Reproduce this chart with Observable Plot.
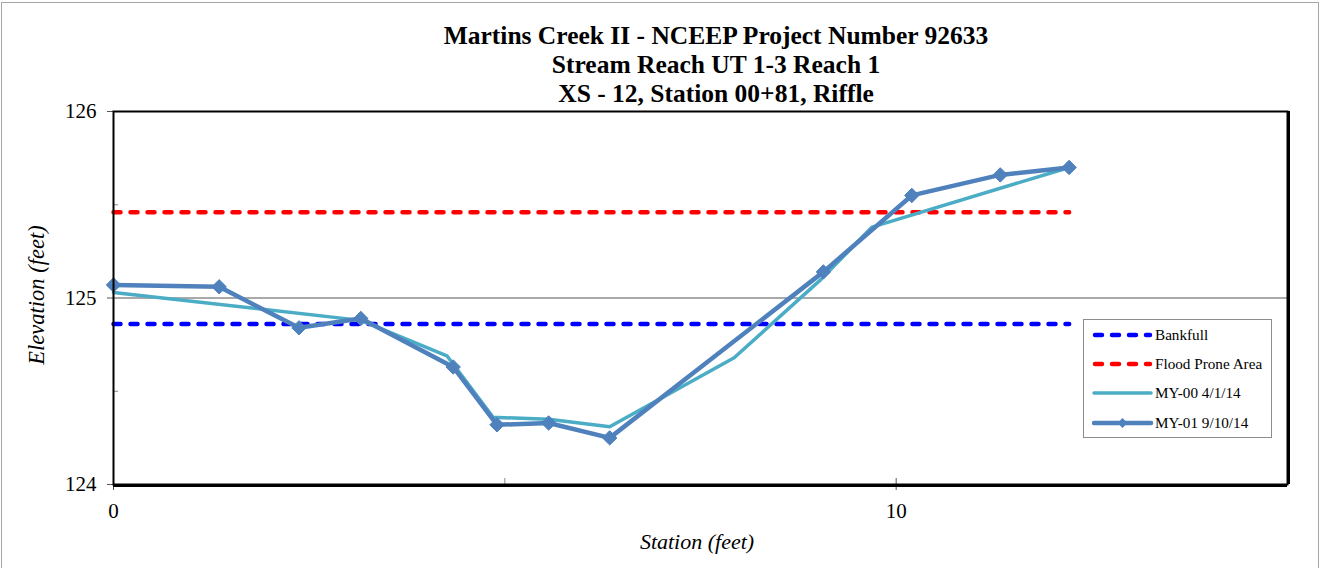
<!DOCTYPE html>
<html>
<head>
<meta charset="utf-8">
<script src="https://cdn.jsdelivr.net/npm/d3@7"></script>
<script src="https://cdn.jsdelivr.net/npm/@observablehq/plot@0.6"></script>
<style>
  body { margin: 0; background: #fff; }
  #wrap { position: relative; width: 1323px; height: 568px; overflow: hidden; font-family: "Liberation Serif", "Times New Roman", serif; background: #fff; }
  #border { position: absolute; left: 1px; top: 2px; width: 1318px; height: 600px; border: 1px solid #a6a6a6; box-sizing: border-box; }
  #chart { position: absolute; left: 0; top: 0; }
  #title { position: absolute; left: 316px; width: 800px; top: 21px; text-align: center; font-weight: bold; font-size: 25.5px; line-height: 29px; color: #000; }
  #xlabel { position: absolute; left: 597px; width: 200px; top: 529px; text-align: center; font-style: italic; font-size: 22px; color: #000; }
  #ylabel { position: absolute; left: 37px; top: 295px; transform: translate(-50%, -50%) rotate(-90deg); white-space: nowrap; font-style: italic; font-size: 22.5px; color: #000; }
  #legend { position: absolute; left: 1083px; top: 319px; width: 189px; height: 119px; border: 1px solid #8c8c8c; box-sizing: border-box; background: #fff; }
  .row { position: absolute; left: 0; height: 20px; width: 189px; }
  .row svg { position: absolute; left: 8px; top: 0; }
  .row span { position: absolute; left: 71px; top: 0px; font-size: 15.2px; line-height: 19px; color: #000; white-space: nowrap; }
</style>
</head>
<body>
<div id="wrap">
  <div id="border"></div>
  <div id="chart"></div>
  <div id="title"></div>
  <div id="xlabel"></div>
  <div id="ylabel"></div>
  <div id="legend"></div>
</div>
<script>
// ---- Data ----
const titleLines = ["Martins Creek II - NCEEP Project Number 92633", "Stream Reach UT 1-3 Reach 1", "XS - 12, Station 00+81, Riffle"];
const xLabel = "Station (feet)";
const yLabel = "Elevation (feet)";

const xTicks = [0, 10];
const xMinorTicks = [5];
const yTicks = [124, 125, 126];
const yMinorTicks = [124.5, 125.5];
const yGrid = [125];

const bankfullStation = [0, 12.21];
const bankfullElev = [124.86, 124.86];
const floodStation = [0, 12.21];
const floodElev = [125.46, 125.46];

const my00Station = [0, 3.16, 4.26, 4.85, 5.56, 6.34, 7.93, 9.04, 9.69, 12.21];
const my00Elev = [125.03, 124.88, 124.69, 124.36, 124.35, 124.31, 124.68, 125.10, 125.38, 125.70];

const my01Station = [0, 1.35, 2.37, 3.16, 4.34, 4.90, 5.56, 6.34, 9.07, 10.20, 11.33, 12.21];
const my01Elev = [125.07, 125.06, 124.84, 124.89, 124.63, 124.32, 124.33, 124.25, 125.14, 125.55, 125.66, 125.70];

const seriesNames = ["Bankfull", "Flood Prone Area", "MY-00 4/1/14", "MY-01 9/10/14"];
const seriesColors = ["#0000FF", "#FF0000", "#4BACC6", "#4F81BD"];

// ---- Build tables ----
const toRows = (xs, ys) => xs.map((x, i) => ({x, y: ys[i]}));
const bankfull = toRows(bankfullStation, bankfullElev);
const flood = toRows(floodStation, floodElev);
const my00 = toRows(my00Station, my00Elev);
const my01 = toRows(my01Station, my01Elev);

const W = 1323, H = 568;
const mL = 113, mR = 36, mT = 111, mB = 84;
const plotW = W - mL - mR, plotH = H - mT - mB;

const dash = {strokeWidth: 4.5, strokeDasharray: "7,10", strokeLinecap: "round"};

const chart = Plot.plot({
  width: W, height: H,
  marginLeft: mL, marginRight: mR, marginTop: mT, marginBottom: mB,
  x: {domain: [0, 15]},
  y: {domain: [124, 126]},
  style: {fontFamily: "Liberation Serif, Times New Roman, serif", fontSize: "21px", background: "transparent", color: "#000"},
  marks: [
    Plot.ruleY(yGrid, {y: d => d, stroke: "#555", strokeWidth: 1}),
    Plot.tickY(yMinorTicks, {y: d => d, insetRight: plotW - 5, stroke: "#888", strokeWidth: 1}),
    Plot.tickX(xMinorTicks, {x: d => d, insetTop: plotH - 6, stroke: "#888", strokeWidth: 1}),
    Plot.tickX(xTicks, {x: d => d, insetTop: plotH - 6, stroke: "#555", strokeWidth: 1}),
    Plot.line(bankfull, {x: "x", y: "y", stroke: seriesColors[0], ...dash}),
    Plot.line(flood, {x: "x", y: "y", stroke: seriesColors[1], ...dash}),
    Plot.line(my00, {x: "x", y: "y", stroke: seriesColors[2], strokeWidth: 3.5, strokeLinejoin: "round"}),
    Plot.line(my01, {x: "x", y: "y", stroke: seriesColors[3], strokeWidth: 4.5, strokeLinejoin: "round"}),
    Plot.dot(my01, {x: "x", y: "y", symbol: "diamond2", r: 6.5, fill: seriesColors[3], stroke: seriesColors[3], strokeWidth: 1}),
    Plot.axisX({ticks: xTicks, tickSize: 6, tickPadding: 13, tickFormat: d => String(d), label: null, stroke: "#555"}),
    Plot.axisY({ticks: yTicks, tickSize: 6, tickPadding: 11, tickFormat: d => String(d), label: null, stroke: "#555"}),
    Plot.frame({stroke: "#000", strokeWidth: 2}),
    Plot.ruleY([124], {y: d => d, stroke: "#000", strokeWidth: 2, dy: 1.5}),
    Plot.ruleX([15], {x: d => d, stroke: "#000", strokeWidth: 2, dx: 1.5})
  ]
});
document.getElementById("chart").appendChild(chart);

document.getElementById("title").innerHTML = titleLines.map(t => `<div>${t}</div>`).join("");
document.getElementById("xlabel").textContent = xLabel;
document.getElementById("ylabel").textContent = yLabel;

// ---- Legend ----
const legend = document.getElementById("legend");
const rowTops = [5, 34, 63, 93];
seriesNames.forEach((name, i) => {
  const row = document.createElement("div");
  row.className = "row";
  row.style.top = rowTops[i] + "px";
  let sw;
  if (i < 2) {
    sw = `<line x1="3" y1="10" x2="58" y2="10" stroke="${seriesColors[i]}" stroke-width="4.5" stroke-dasharray="7,10" stroke-linecap="round"/>`;
  } else if (i === 2) {
    sw = `<line x1="2" y1="10" x2="59" y2="10" stroke="${seriesColors[i]}" stroke-width="3.5" stroke-linecap="round"/>`;
  } else {
    sw = `<line x1="2" y1="10" x2="59" y2="10" stroke="${seriesColors[i]}" stroke-width="4.5" stroke-linecap="round"/><path d="M30.5,5 L35.5,10 L30.5,15 L25.5,10 Z" fill="${seriesColors[i]}"/>`;
  }
  row.innerHTML = `<svg width="62" height="20">${sw}</svg><span>${name}</span>`;
  legend.appendChild(row);
});
</script>
</body>
</html>
